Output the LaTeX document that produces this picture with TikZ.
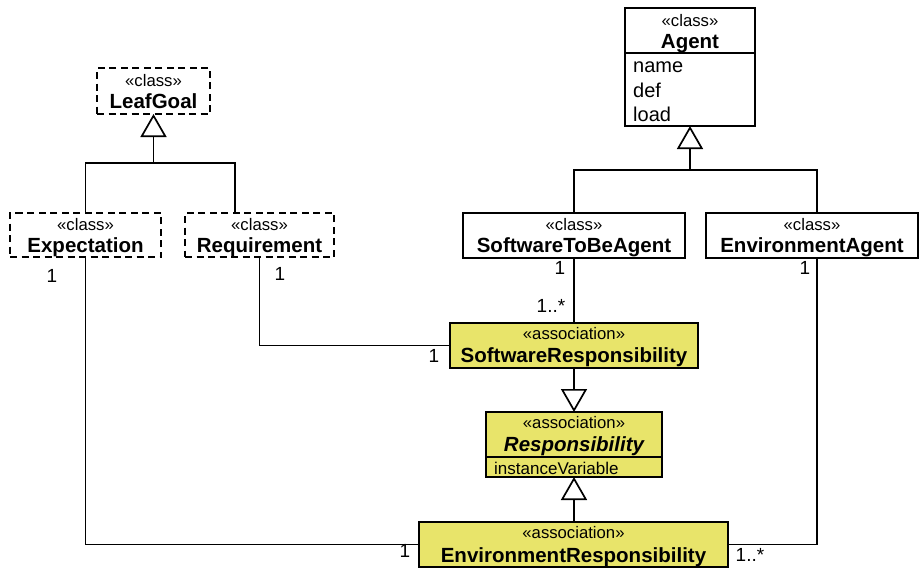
\documentclass[tikz,border=0pt]{standalone}
\usepackage{fontspec}
\setmainfont{Liberation Sans}
\usetikzlibrary{arrows.meta,calc}
\definecolor{assocfill}{RGB}{232,228,106}
\begin{document}
\begin{tikzpicture}[x=1pt,y=-1pt,
  box/.style={draw, line width=1.7pt, fill=white, inner sep=0pt, outer sep=0pt, anchor=north west},
  abstractbox/.style={box, dash pattern=on 7pt off 4.5pt},
  assoc/.style={box, fill=assocfill},
  stereo/.style={anchor=base, inner sep=0pt, font=\fontsize{16.7}{18}\selectfont},
  title/.style={anchor=base, inner sep=0pt, font=\fontsize{20.5}{24}\selectfont\bfseries},
  attr/.style={anchor=base west, inner sep=0pt, font=\fontsize{20}{24}\selectfont},
  smallattr/.style={anchor=base west, inner sep=0pt, font=\fontsize{17}{20}\selectfont},
  mult/.style={anchor=base, inner sep=0pt, font=\fontsize{19}{22}\selectfont},
  link/.style={line width=1.7pt},
  inherit/.style={link, -{Triangle[open, length=23pt, width=26pt, line width=1.7pt]}},
]
\useasboundingbox (0,0) rectangle (919,568);

% ---- class boxes ----
\node[abstractbox, minimum width=113, minimum height=46] (leafgoal) at (97,68) {};
\node[box, minimum width=130, minimum height=118] (agent) at (625,8) {};
\node[abstractbox, minimum width=151, minimum height=44] (expectation) at (10,213) {};
\node[abstractbox, minimum width=149, minimum height=44] (requirement) at (185,213) {};
\node[box, minimum width=222, minimum height=45] (stba) at (463,213) {};
\node[box, minimum width=212, minimum height=45] (envagent) at (706,213) {};

% ---- association classes ----
\node[assoc, minimum width=248, minimum height=45] (softresp) at (450,323) {};
\node[assoc, minimum width=176, minimum height=65] (resp) at (486,412) {};
\node[assoc, minimum width=309, minimum height=45] (envresp) at (419,522) {};

% compartment separators
\draw[link] ($(agent.north west)+(0,45)$) -- ($(agent.north east)+(0,45)$);
\draw[link] ($(resp.north west)+(0,45)$) -- ($(resp.north east)+(0,45)$);

% ---- box texts ----
\node[stereo] (leafgoal-st) at ($(leafgoal.north)+(0,18)$) {«class»};
\node[title]  (leafgoal-t)  at ($(leafgoal.north)+(0,40)$) {LeafGoal};

\node[stereo] (agent-st) at ($(agent.north)+(0,18)$) {«class»};
\node[title]  (agent-t)  at ($(agent.north)+(0,40)$) {Agent};
\node[attr] (agent-a1) at ($(agent.north west)+(8,64)$) {name};
\node[attr] (agent-a2) at ($(agent.north west)+(8,89)$) {def};
\node[attr] (agent-a3) at ($(agent.north west)+(8,113)$) {load};

\node[stereo] (exp-st) at ($(expectation.north)+(0,17)$) {«class»};
\node[title]  (exp-t)  at ($(expectation.north)+(0,39)$) {Expectation};

\node[stereo] (req-st) at ($(requirement.north)+(0,17)$) {«class»};
\node[title]  (req-t)  at ($(requirement.north)+(0,39)$) {Requirement};

\node[stereo] (stba-st) at ($(stba.north)+(0,17)$) {«class»};
\node[title]  (stba-t)  at ($(stba.north)+(0,39)$) {SoftwareToBeAgent};

\node[stereo] (envagent-st) at ($(envagent.north)+(0,17)$) {«class»};
\node[title]  (envagent-t)  at ($(envagent.north)+(0,39)$) {EnvironmentAgent};

\node[stereo] (softresp-st) at ($(softresp.north)+(0,16)$) {«association»};
\node[title]  (softresp-t)  at ($(softresp.north)+(0,39)$) {SoftwareResponsibility};

\node[stereo] (resp-st) at ($(resp.north)+(0,16)$) {«association»};
\node[title]  (resp-t)  at ($(resp.north)+(0,39)$) {\itshape Responsibility};
\node[smallattr] (resp-a1) at ($(resp.north west)+(8,62)$) {instanceVariable};

\node[stereo] (envresp-st) at ($(envresp.north)+(0,16)$) {«association»};
\node[title]  (envresp-t)  at ($(envresp.north)+(0,40)$) {EnvironmentResponsibility};

% ---- generalizations ----
\coordinate (lgjoin) at (153.5,163);
\draw[link] (expectation.north) |- (lgjoin) -| ($(requirement.north west)+(50,0)$);
\draw[inherit] (lgjoin) -- (leafgoal.south);

\coordinate (agjoin) at (690,170);
\draw[link] (stba.north) |- (agjoin) -| ($(envagent.north west)+(111,0)$);
\draw[inherit] (agjoin) -- (agent.south);

\draw[inherit] (softresp.south) -- (resp.north);
\draw[inherit] (resp.south |- envresp.north) -- (resp.south);

% ---- associations ----
\draw[link] (stba.south) -- (softresp.north);
\draw[link] (requirement.south) |- (softresp.west);
\draw[link] (expectation.south) |- (envresp.west);
\draw[link] ($(envagent.south west)+(111,0)$) |- (envresp.east);

% ---- multiplicities ----
\node[mult] (m-exp)   at (52,282)  {1};
\node[mult] (m-req)   at (280,280) {1};
\node[mult] (m-stba)  at (560,274) {1};
\node[mult] (m-sr-a)  at (551,312) {1..*};
\node[mult] (m-env)   at (805,274) {1};
\node[mult] (m-sr-r)  at (434,362) {1};
\node[mult] (m-er-e)  at (405,557) {1};
\node[mult] (m-er-a)  at (750,561) {1..*};
\end{tikzpicture}
\end{document}
